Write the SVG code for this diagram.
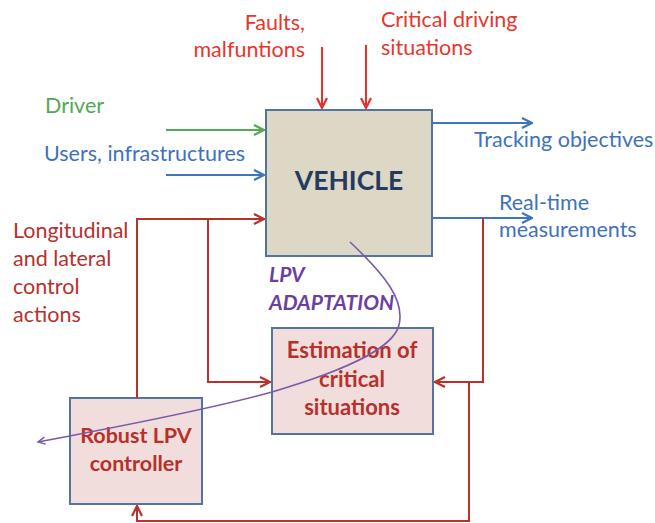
<svg xmlns="http://www.w3.org/2000/svg" width="655" height="523" viewBox="0 0 655 523">
<defs>
<marker id="aR" viewBox="0 0 12 12" refX="11" refY="6" markerWidth="12" markerHeight="12" markerUnits="userSpaceOnUse" orient="auto"><path d="M1,1 L11,6 L1,11" fill="none" stroke="#E3342B" stroke-width="2.2"/></marker>
<marker id="aD" viewBox="0 0 12 12" refX="11" refY="6" markerWidth="12" markerHeight="12" markerUnits="userSpaceOnUse" orient="auto"><path d="M1,1 L11,6 L1,11" fill="none" stroke="#B8312B" stroke-width="2.2"/></marker>
<marker id="aG" viewBox="0 0 12 12" refX="11" refY="6" markerWidth="12" markerHeight="12" markerUnits="userSpaceOnUse" orient="auto"><path d="M1,1 L11,6 L1,11" fill="none" stroke="#53A853" stroke-width="2.2"/></marker>
<marker id="aB" viewBox="0 0 12 12" refX="11" refY="6" markerWidth="12" markerHeight="12" markerUnits="userSpaceOnUse" orient="auto"><path d="M1,1 L11,6 L1,11" fill="none" stroke="#3F74BE" stroke-width="2.2"/></marker>
<marker id="aP" viewBox="0 0 10 10" refX="9" refY="5" markerWidth="9" markerHeight="9" markerUnits="userSpaceOnUse" orient="auto"><path d="M1,1 L9,5 L1,9" fill="none" stroke="#7A5AA8" stroke-width="1.6"/></marker>
</defs>
<style>
text{font-family:Lato,"Open Sans","Liberation Sans",sans-serif;font-size:21.5px}
.red{fill:#E8362C}
.dred{fill:#B8302B}
.blue{fill:#3E72BC}
.green{fill:#52A852}
.box{stroke:#5373A0;stroke-width:2}
.bold{font-weight:bold;text-anchor:middle}
.cr{fill:none;stroke:#B8312B;stroke-width:2}
</style>
<rect width="655" height="523" fill="#fff"/>
<g id="vehicle">
<rect class="box" x="266" y="110" width="166" height="146" fill="#DDD8C6"/>
<text class="bold" x="349" y="190" style="font-size:26.5px;fill:#243A5E">VEHICLE</text>
</g>
<g id="estimation">
<rect class="box" x="272" y="328" width="161" height="106" fill="#F0DDDC"/>
<text class="bold dred" x="352" y="358" style="font-size:22px">Estimation of</text>
<text class="bold dred" x="352" y="387" style="font-size:22px">critical</text>
<text class="bold dred" x="352" y="415" style="font-size:22px">situations</text>
</g>
<g id="controller">
<rect class="box" x="70" y="398" width="132" height="106" fill="#F0DDDC"/>
<text class="bold dred" x="136" y="443" style="font-size:21.5px">Robust LPV</text>
<text class="bold dred" x="136" y="471" style="font-size:21.5px">controller</text>
</g>
<g id="labels">
<text class="red" x="305" y="30" text-anchor="end">Faults,</text>
<text class="red" x="305" y="57" text-anchor="end">malfuntions</text>
<text class="red" x="381" y="27">Critical driving</text>
<text class="red" x="381" y="55">situations</text>
<text class="green" x="45" y="113">Driver</text>
<text class="blue" x="44" y="161">Users, infrastructures</text>
<text class="blue" x="474" y="147">Tracking objectives</text>
<text class="blue" x="499" y="210">Real-time</text>
<text class="blue" x="499" y="237">measurements</text>
<text class="dred" x="13" y="238">Longitudinal</text>
<text class="dred" x="13" y="266">and lateral</text>
<text class="dred" x="13" y="294">control</text>
<text class="dred" x="13" y="322">actions</text>
<text x="269" y="282" style="font-size:21px;font-weight:bold;font-style:italic;fill:#6B3FA0">LPV</text>
<text x="269" y="310" style="font-size:21px;font-weight:bold;font-style:italic;fill:#6B3FA0">ADAPTATION</text>
</g>
<g id="connectors">
<path d="M322,47 V108" fill="none" stroke="#E3342B" stroke-width="2" marker-end="url(#aR)"/>
<path d="M366,45 V108" fill="none" stroke="#E3342B" stroke-width="2" marker-end="url(#aR)"/>
<path d="M166,130 H264" fill="none" stroke="#53A853" stroke-width="2" marker-end="url(#aG)"/>
<path d="M166,175 H264" fill="none" stroke="#3F74BE" stroke-width="2" marker-end="url(#aB)"/>
<path d="M432,123 H532" fill="none" stroke="#3F74BE" stroke-width="2" marker-end="url(#aB)"/>
<path d="M432,218 H532" fill="none" stroke="#3F74BE" stroke-width="2" marker-end="url(#aB)"/>
<path class="cr" d="M137,398 V219 H264" marker-end="url(#aD)"/>
<path class="cr" d="M208,219 V382 H270" marker-end="url(#aD)"/>
<path class="cr" d="M483,218 V382 H435" marker-end="url(#aD)"/>
<path class="cr" d="M469,382 V521 H137 V506" marker-end="url(#aD)"/>
<path d="M350,242 C385,275 405,300 399,325 C393,350 340,372 272,392 C200,412 100,430 38,442" fill="none" stroke="#7A5AA8" stroke-width="1.6" marker-end="url(#aP)"/>
</g>
</svg>
